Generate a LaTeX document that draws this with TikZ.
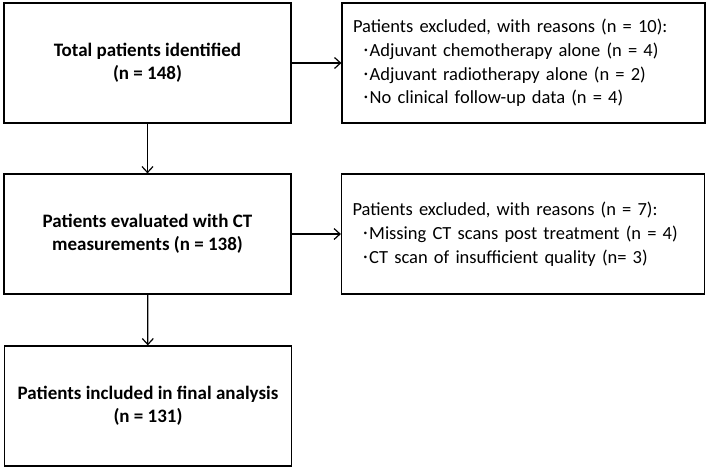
\documentclass[tikz,border=0pt]{standalone}
\usepackage{fontspec}
\usepackage{graphicx}
\setmainfont{Carlito}
\usetikzlibrary{arrows.meta}
\newcommand\bul{\hspace*{11pt}\raisebox{0.22em}{\scalebox{0.4}{•}}\hspace{2pt}}
\begin{document}
\begin{tikzpicture}[x=1pt,y=-1pt,
  box/.style={draw, line width=1.2pt, minimum height=120pt, inner sep=0pt},
  leftbox/.style={box, minimum width=287pt, font=\fontsize{19}{23}\selectfont\bfseries, align=center},
  rightbox/.style={box, minimum width=363pt, text width=341pt, inner xsep=11pt, font=\fontsize{18.5}{23.8}\selectfont, align=left},
  arr/.style={line width=1.2pt, -{Straight Barb[length=6pt,width=11pt]}}]
\useasboundingbox (0,0) rectangle (709,469);
\node[leftbox] (b1) at (147.5,63) {Total patients identified\\(n = 148)};
\node[leftbox] (b2) at (147.5,234) {Patients evaluated with CT\\measurements (n = 138)};
\node[leftbox] (b3) at (148,406) {Patients included in final analysis\\(n = 131)};
\node[rightbox] (r1) at (523.5,63) {Patients excluded, with reasons (n = 10):\\
\bul Adjuvant chemotherapy alone (n = 4)\\
\bul Adjuvant radiotherapy alone (n = 2)\\
\bul No clinical follow-up data (n = 4)};
\node[rightbox] (r2) at (523,234) {Patients excluded, with reasons (n = 7):\\
\bul Missing CT scans post treatment (n = 4)\\
\bul CT scan of insufficient quality (n= 3)};
\draw[arr] (b1) -- (r1);
\draw[arr] (b2) -- (r2);
\draw[arr] (b1) -- (b2);
\draw[arr] (b2) -- (b3);
\end{tikzpicture}
\end{document}
